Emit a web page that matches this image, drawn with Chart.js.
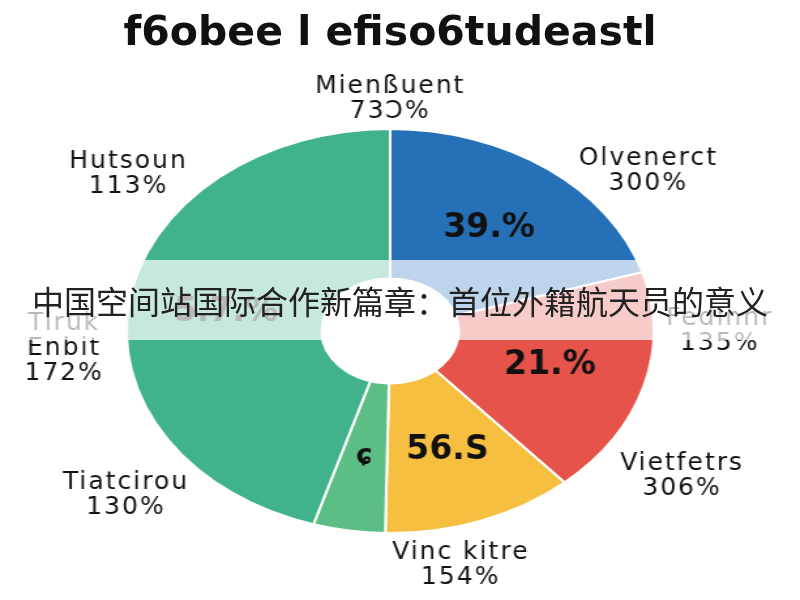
<!DOCTYPE html>
<html>
<head>
<meta charset="utf-8">
<script src="https://cdn.jsdelivr.net/npm/chart.js@4"></script>
<style>
    body { margin: 0; width: 800px; height: 600px; overflow: hidden; background: #fff; position: relative; }
    #title {
        position: absolute; left: 0; top: 7px; width: 780px; text-align: center;
        font: bold 41px "DejaVu Sans", sans-serif; color: #111; white-space: nowrap;
    }
    #stretch {
        position: absolute; left: 0; top: 0; width: 613px; height: 600px;
        transform: scaleX(1.305); transform-origin: 0 0;
    }
    #banner {
        position: absolute; left: 0; top: 260px; width: 800px; height: 80px;
        background: rgba(255, 255, 255, 0.7);
        font: 32px "Noto Sans CJK SC", sans-serif; color: #222;
        text-align: center; line-height: 80px; white-space: nowrap;
    }
</style>
</head>
<body>
<div id="stretch"><canvas id="pieChart" width="613" height="600"></canvas></div>
<div id="title">f6obee l efiso6tudeastl</div>
<div id="banner">中国空间站国际合作新篇章：首位外籍航天员的意义</div>

<script>
/* ================= DATA ================= */

const sliceLabels = ["39.%", "21.%", "56.S", "ɕ", "5.7.%"];
const sliceValues = [20.3, 18.2, 11.8, 4.4, 45.3];
const sliceColors = ["#2670b7", "#e5534a", "#f7bf40", "#5cbe84", "#40b28c"];

const outerNames = ["Mienßuent", "Olvenerct", "Fedinnr", "Vietfetrs", "Vinc kitre", "Tiatcirou", "Tiruk\nEnbit", "Hutsoun"];
const outerValues = ["73Ɔ%", "300%", "135%", "306%", "154%", "130%", "172%", "113%"];

// where each outer label sits: angle (deg, 0 = right, clockwise) and distance in radii
const outerPlace = [[-90, 1.15], [-39, 1.26], [0, 1.25], [33, 1.32], [77, 1.19], [141, 1.29], [176, 1.24], [-142, 1.26]];

const STRETCH = 1.305;

/* ================= LABEL PLUGIN ================= */

function drawText(ctx, text, x, y) {
    ctx.save();
    ctx.translate(x, y);
    ctx.scale(1 / STRETCH, 1);
    ctx.fillText(text, 0, 0);
    ctx.restore();
}

const labelPlugin = {
    id: "labelPlugin",
    afterDraw(chart) {
        const ctx = chart.ctx;
        const arcs = chart.getDatasetMeta(0).data;
        const cx = arcs[0].x, cy = arcs[0].y, r = arcs[0].outerRadius;

        ctx.save();
        ctx.fillStyle = "#111";
        ctx.textAlign = "center";
        ctx.textBaseline = "middle";

        // inside the slices
        arcs.forEach((arc, i) => {
            const pos = arc.tooltipPosition();
            ctx.font = (i === 3 ? "bold 28px" : "bold 33px") + " 'DejaVu Sans', sans-serif";
            drawText(ctx, sliceLabels[i], pos.x, pos.y);
        });

        // around the pie
        ctx.font = "25px 'DejaVu Sans', sans-serif";
        ctx.letterSpacing = "2px";
        outerNames.forEach((name, i) => {
            const a = outerPlace[i][0] * Math.PI / 180;
            const d = outerPlace[i][1] * r;
            const lines = name.split("\n").concat(outerValues[i]);
            const x = cx + Math.cos(a) * d;
            const y0 = cy + Math.sin(a) * d - (lines.length - 1) * 25 / 2;
            lines.forEach((line, k) => drawText(ctx, line, x, y0 + k * 25));
        });
        ctx.restore();
    }
};

/* ================= CHART ================= */

new Chart(document.getElementById("pieChart"), {
    type: "doughnut",
    data: {
        labels: sliceLabels,
        datasets: [{
            data: sliceValues,
            backgroundColor: sliceColors,
            borderColor: "#ffffff",
            borderWidth: 2
        }]
    },
    options: {
        responsive: false,
        animation: false,
        cutout: "26%",
        layout: { padding: { left: 96, right: 111, top: 128, bottom: 66 } },
        plugins: {
            legend: { display: false },
            tooltip: { enabled: false }
        }
    },
    plugins: [labelPlugin]
});
</script>
</body>
</html>
